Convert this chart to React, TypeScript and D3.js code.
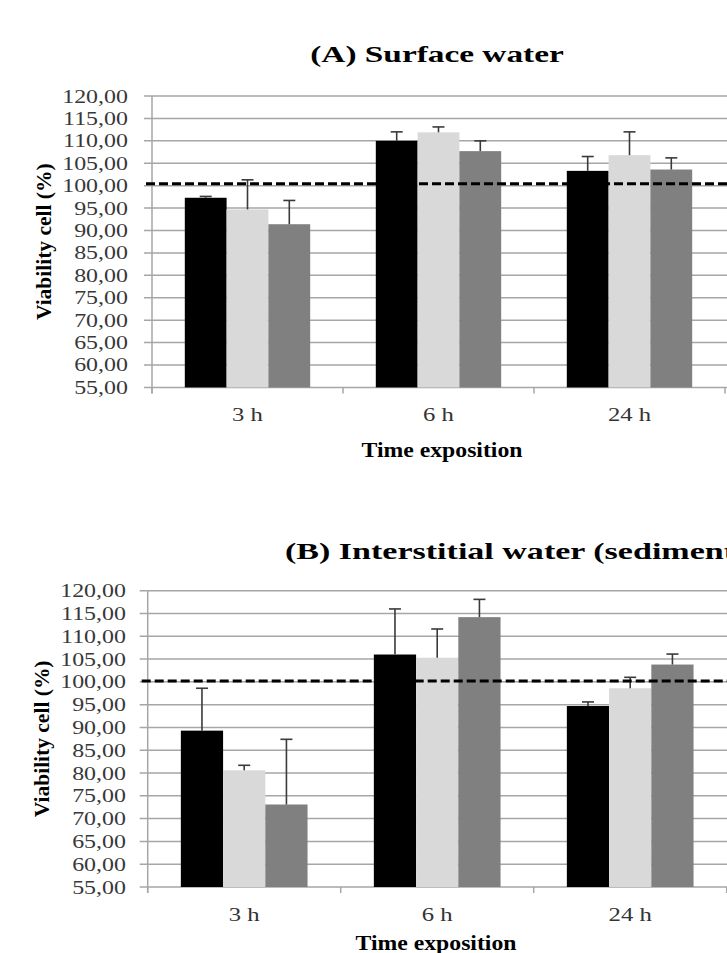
import React from "react";
import * as d3 from "d3";

const categories = ["3 h", "6 h", "24 h"];
const series = ["s1", "s2", "s3"];
const seriesColors = ["#000000", "#d9d9d9", "#808080"];
const yTicks = [55, 60, 65, 70, 75, 80, 85, 90, 95, 100, 105, 110, 115, 120];

// (A) Surface water
const surfaceMeans = [
  [97.3, 94.7, 91.4],
  [110.0, 111.9, 107.7],
  [103.3, 106.8, 103.6],
];
const surfaceErrors = [
  [0.3, 6.6, 5.3],
  [2.0, 1.2, 2.3],
  [3.2, 5.2, 2.6],
];
const surfaceRef = 100.4;

// (B) Interstitial water (sediment)
const interstitialMeans = [
  [89.3, 80.6, 73.1],
  [106.0, 105.3, 114.2],
  [94.7, 98.6, 103.8],
];
const interstitialErrors = [
  [9.3, 1.1, 14.3],
  [10.0, 6.3, 3.9],
  [0.9, 2.4, 2.3],
];
const interstitialRef = 100.2;

const FONT = "'Liberation Serif', 'Times New Roman', serif";

type PanelProps = {
  title: string;
  titleX: number;
  titleY: number;
  titleScale: number;
  titleAnchor: "start" | "middle";
  means: number[][];
  errors: number[][];
  refValue: number;
  left: number;
  right: number;
  top: number;
  bottom: number;
  tickLabelX: number;
  yLabelX: number;
  xTitleX: number;
  xTitleY: number;
};

function Panel(p: PanelProps) {
  const y = d3.scaleLinear().domain([55, 120]).range([p.bottom, p.top]);
  const x = d3.scaleBand<string>().domain(categories).range([p.left, p.right]).paddingInner(0).paddingOuter(0);
  const inner = d3
    .scaleBand<string>()
    .domain(series)
    .range([0, x.bandwidth()])
    .paddingInner(0)
    .paddingOuter(0.785);
  const fmt = (v: number) => d3.format(".2f")(v).replace(".", ",");
  const boundaries = [...categories.map((c) => x(c) as number), p.right];
  const capHalf = 6;
  return (
    <g>
      <text
        transform={`translate(${p.titleX},${p.titleY}) scale(${p.titleScale},1)`}
        textAnchor={p.titleAnchor}
        fontFamily={FONT}
        fontWeight="bold"
        fontSize={23}
        fill="#000"
      >
        {p.title}
      </text>
      {yTicks.map((t) => (
        <line
          key={"g" + t}
          x1={p.left - 8}
          x2={740}
          y1={y(t)}
          y2={y(t)}
          stroke="#a6a6a6"
          strokeWidth={1.5}
        />
      ))}
      <line x1={p.left} x2={p.left} y1={p.top} y2={p.bottom + 6} stroke="#a6a6a6" strokeWidth={1.5} />
      {boundaries.map((b, i) => (
        <line key={"xt" + i} x1={b} x2={b} y1={p.bottom} y2={p.bottom + 6} stroke="#a6a6a6" strokeWidth={1.5} />
      ))}
      {yTicks.map((t) => (
        <text
          key={"l" + t}
          transform={`translate(${p.tickLabelX},${y(t) + 6.5}) scale(1.26,1)`}
          textAnchor="end"
          fontFamily={FONT}
          fontSize={19}
          fill="#383838"
        >
          {fmt(t)}
        </text>
      ))}
      {categories.map((c, ci) =>
        series.map((s, si) => {
          const v = p.means[ci][si];
          const bx = (x(c) as number) + (inner(s) as number);
          return (
            <rect
              key={c + s}
              x={bx}
              y={y(v)}
              width={inner.bandwidth()}
              height={y(55) - y(v)}
              fill={seriesColors[si]}
            />
          );
        })
      )}
      {categories.map((c, ci) =>
        series.map((s, si) => {
          const v = p.means[ci][si];
          const e = p.errors[ci][si];
          const cx = (x(c) as number) + (inner(s) as number) + inner.bandwidth() / 2;
          return (
            <g key={"e" + c + s} stroke="#3a3a3a" strokeWidth={1.6}>
              <line x1={cx} x2={cx} y1={y(v)} y2={y(v + e)} />
              <line x1={cx - capHalf} x2={cx + capHalf} y1={y(v + e)} y2={y(v + e)} />
            </g>
          );
        })
      )}
      <line
        x1={p.left - 6}
        x2={740}
        y1={y(p.refValue)}
        y2={y(p.refValue)}
        stroke="#000"
        strokeWidth={3}
        strokeDasharray="9,4"
      />
      {categories.map((c) => (
        <text
          key={"xl" + c}
          transform={`translate(${(x(c) as number) + x.bandwidth() / 2},${p.bottom + 34}) scale(1.3,1)`}
          textAnchor="middle"
          fontFamily={FONT}
          fontSize={19}
          fill="#333"
        >
          {c}
        </text>
      ))}
      <text
        transform={`translate(${p.xTitleX},${p.xTitleY}) scale(1.13,1)`}
        textAnchor="middle"
        fontFamily={FONT}
        fontWeight="bold"
        fontSize={21}
        fill="#000"
      >
        Time exposition
      </text>
      <text
        transform={`translate(${p.yLabelX},${(p.top + p.bottom) / 2}) rotate(-90) scale(1.075,1)`}
        textAnchor="middle"
        fontFamily={FONT}
        fontWeight="bold"
        fontSize={20}
        fill="#000"
      >
        Viability cell (%)
      </text>
    </g>
  );
}

export default function App() {
  return (
    <svg
      width={727}
      height={953}
      style={{ position: "absolute", left: 0, top: 0, background: "#fff" }}
    >
      <rect x={0} y={0} width={727} height={953} fill="#fff" />
      <Panel
        title="(A) Surface water"
        titleX={437}
        titleY={62}
        titleScale={1.45}
        titleAnchor="middle"
        means={surfaceMeans}
        errors={surfaceErrors}
        refValue={surfaceRef}
        left={152}
        right={725}
        top={96}
        bottom={387.4}
        tickLabelX={128}
        yLabelX={51}
        xTitleX={442}
        xTitleY={457}
      />
      <Panel
        title="(B) Interstitial water (sediment)"
        titleX={285}
        titleY={559}
        titleScale={1.48}
        titleAnchor="start"
        means={interstitialMeans}
        errors={interstitialErrors}
        refValue={interstitialRef}
        left={147.7}
        right={726.7}
        top={590.7}
        bottom={887}
        tickLabelX={126}
        yLabelX={49}
        xTitleX={436}
        xTitleY={950}
      />
    </svg>
  );
}
